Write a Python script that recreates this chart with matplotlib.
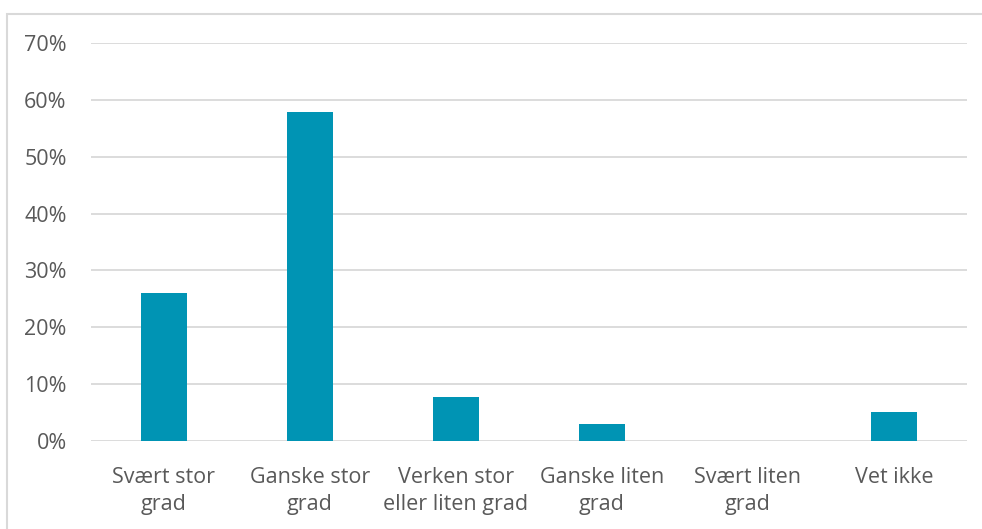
import matplotlib.pyplot as plt
import matplotlib.patches as patches
from matplotlib.ticker import PercentFormatter

# categories and shares
categories = ["Svært stor\ngrad", "Ganske stor\ngrad", "Verken stor\neller liten grad",
              "Ganske liten\ngrad", "Svært liten\ngrad", "Vet ikke"]
shares = [0.26, 0.579, 0.077, 0.030, 0.0, 0.051]
yticks = [0, 0.1, 0.2, 0.3, 0.4, 0.5, 0.6, 0.7]

plt.rcParams['font.family'] = ['Open Sans', 'DejaVu Sans']
txt_color = '#595959'

fig = plt.figure(figsize=(9.82, 5.29), dpi=100)
ax = fig.add_axes([91/982, 1-441/529, (967-91)/982, (441-43)/529])

x = range(len(categories))
ax.bar(x, shares, width=0.315, color='#0094B4', zorder=3)

ax.set_xlim(-0.5, len(categories) - 0.5)
ax.set_ylim(0, 0.7)
ax.set_yticks(yticks)
ax.yaxis.set_major_formatter(PercentFormatter(1.0, decimals=0))
ax.set_xticks(list(x))
ax.set_xticklabels(categories, linespacing=1.4)

ax.grid(axis='y', color='#D9D9D9', linewidth=1.3, zorder=0)
for s in ax.spines.values():
    s.set_visible(False)
ax.tick_params(axis='both', length=0, labelsize=15.5, labelcolor=txt_color)
ax.tick_params(axis='y', pad=17.5)
ax.tick_params(axis='x', pad=18.5)

# outer chart border (only top and left visible in the crop)
border = patches.Rectangle((7/982, -0.1), 1.2, 1.1 - 14/529, transform=fig.transFigure,
                           fill=False, edgecolor='#D9D9D9', linewidth=1.5)
fig.patches.append(border)

fig.savefig('out.png', dpi=100)
